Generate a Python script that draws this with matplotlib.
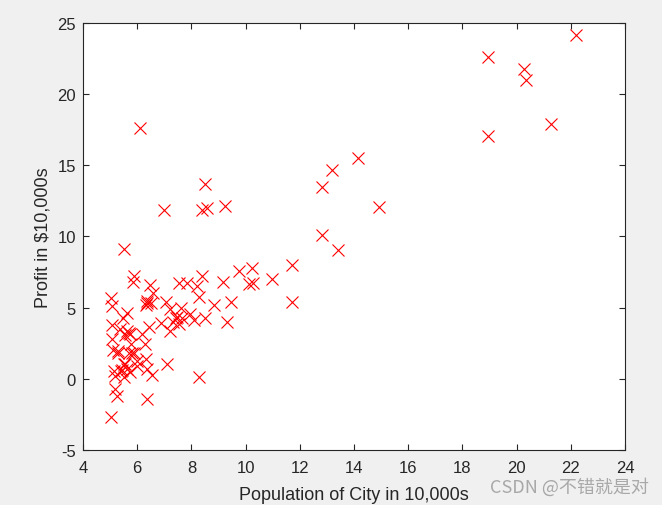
import numpy as np
import matplotlib.pyplot as plt

plt.rcParams['font.family'] = ['Liberation Sans', 'DejaVu Sans']
plt.rcParams['axes.unicode_minus'] = False

# population of city (10,000s)
population = [6.1101, 5.5277, 8.5186, 7.0032, 5.8598, 8.3829, 7.4764, 8.5781, 6.4862, 5.0546,
              5.7107, 14.164, 5.734, 8.4084, 5.6407, 5.3794, 6.3654, 5.1301, 6.4296, 7.0708,
              6.1891, 20.27, 5.4901, 6.3261, 5.5649, 18.945, 12.828, 10.957, 13.176, 22.203,
              5.2524, 6.5894, 9.2482, 5.8918, 8.2111, 7.9334, 8.0959, 5.6063, 12.836, 6.3534,
              5.4069, 6.8825, 11.708, 5.7737, 7.8247, 7.0931, 5.0702, 5.8014, 11.7, 5.5416,
              7.5402, 5.3077, 7.4239, 7.6031, 6.3328, 6.3589, 6.2742, 5.6397, 9.3102, 9.4536,
              8.8254, 5.1793, 21.279, 14.908, 18.959, 7.2182, 8.2951, 10.236, 5.4994, 20.341,
              10.136, 7.3345, 6.0062, 7.2259, 5.0269, 6.5479, 7.5386, 5.0365, 10.274, 5.1077,
              5.7292, 5.1884, 6.3557, 9.7687, 6.5159, 8.5172, 9.1802, 6.002, 5.5204, 5.0594,
              5.7077, 7.6366, 5.8707, 5.3054, 8.2934, 13.394, 5.4369]
# profit ($10,000s)
profit = [17.592, 9.1302, 13.662, 11.854, 6.8233, 11.886, 4.3483, 12.0, 6.5987, 3.8166,
          3.2522, 15.505, 3.1551, 7.2258, 0.71618, 3.5129, 5.3048, 0.56077, 3.6518, 5.3893,
          3.1386, 21.767, 4.263, 5.1875, 3.0825, 22.638, 13.501, 7.0467, 14.692, 24.147,
          -1.22, 5.9966, 12.134, 1.8495, 6.5426, 4.5623, 4.1164, 3.3928, 10.117, 5.4974,
          0.55657, 3.9115, 5.3854, 2.4406, 6.7318, 1.0463, 5.1337, 1.844, 8.0043, 1.0179,
          6.7504, 1.8396, 4.2885, 4.9981, 1.4233, -1.4211, 2.4756, 4.6042, 3.9624, 5.4141,
          5.1694, -0.74279, 17.929, 12.054, 17.054, 4.8852, 5.7442, 7.7754, 1.0173, 20.992,
          6.6799, 4.0259, 1.2784, 3.3411, -2.6807, 0.29678, 3.8845, 5.7014, 6.7526, 2.0576,
          0.47953, 0.20421, 0.67861, 7.5435, 5.3436, 4.2415, 6.7981, 0.92695, 0.152, 2.8214,
          1.8451, 4.2959, 7.2029, 1.9869, 0.14454, 9.0551, 0.61705]

fig = plt.figure(figsize=(6.62, 5.06), dpi=100, facecolor='#f0f0f0')
ax = fig.add_axes([0.1254, 0.1087, 0.8187, 0.8439])
ax.plot(population, profit, 'rx', markersize=8.5, markeredgewidth=0.8)

ax.set_xlim(4, 24)
ax.set_ylim(-5, 25)
ax.set_xticks(np.arange(4, 25, 2))
ax.set_yticks(np.arange(-5, 26, 5))
ax.tick_params(direction='in', top=True, right=True, labelsize=12, length=4,
               width=0.8, colors='#262626')
ax.tick_params(axis='x', pad=7)
ax.tick_params(axis='y', pad=5)
for s in ax.spines.values():
    s.set_linewidth(0.8)
    s.set_color('#262626')

ax.set_xlabel('Population of City in 10,000s', fontsize=13, color='#262626', labelpad=8)
ax.set_ylabel('Profit in $10,000s', fontsize=13, color='#262626', labelpad=4)

fig.text(0.98, 0.018, 'CSDN @不错就是对', ha='right', va='bottom', fontsize=13,
         color='#a8a8a8', family=['Noto Sans CJK SC', 'DejaVu Sans'])

fig.savefig('out.png', dpi=100, facecolor=fig.get_facecolor())
